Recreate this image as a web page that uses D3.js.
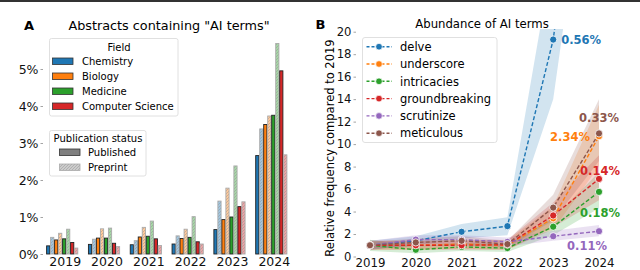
<!DOCTYPE html>
<html>
<head>
<meta charset="utf-8">
<script src="https://cdn.jsdelivr.net/npm/d3@7"></script>
<style>
  body { margin: 0; background: #fff; }
  svg { font-family: "DejaVu Sans", sans-serif; }
</style>
</head>
<body>
<div id="chart"></div>
<script>
// panel A data: share of abstracts with "AI terms" (percent)
var years = [2019, 2020, 2021, 2022, 2023, 2024];
var fields = ["Chemistry", "Biology", "Medicine", "Computer Science"];
var fieldColors = ["#1f77b4", "#ff7f0e", "#2ca02c", "#d62728"];

var chemistryPublished = [0.22, 0.26, 0.25, 0.27, 0.66, 2.66];
var chemistryPreprint  = [0.45, 0.40, 0.36, 0.49, 1.43, 3.38];
var biologyPublished   = [0.38, 0.43, 0.46, 0.42, 0.93, 3.50];
var biologyPreprint    = [0.56, 0.68, 0.72, 0.67, 1.78, 3.73];
var medicinePublished  = [0.41, 0.43, 0.48, 0.45, 1.00, 3.75];
var medicinePreprint   = [0.67, 0.70, 0.89, 1.01, 2.38, 5.69];
var csPublished        = [0.31, 0.29, 0.41, 0.33, 1.28, 4.95];
var csPreprint         = [0.16, 0.20, 0.23, 0.27, 1.41, 2.68];
var yTicksA = [0, 1, 2, 3, 4, 5];

// panel B data: frequency relative to 2019, with confidence band
var terms = ["delve", "underscore", "intricacies", "groundbreaking", "scrutinize", "meticulous"];
var termColors = ["#1f77b4", "#ff7f0e", "#2ca02c", "#d62728", "#9467bd", "#8c564b"];
var termLabels = ["0.56%", "2.34%", "0.18%", "0.14%", "0.11%", "0.33%"];

var delve      = [1, 1.4, 2.2, 2.7, 19.3, 50];
var delveLo    = [0.6, 1.0, 1.6, 1.9, 14, 43];
var delveHi    = [1.4, 1.8, 2.9, 3.5, 27, 60];
var underscore   = [1, 1.0, 1.1, 1.0, 3.4, 10.7];
var underscoreLo = [0.6, 0.6, 0.7, 0.6, 2.4, 8.0];
var underscoreHi = [1.4, 1.4, 1.5, 1.4, 4.5, 13.5];
var intricacies   = [1, 0.6, 0.85, 0.75, 2.65, 5.75];
var intricaciesLo = [0.5, 0.3, 0.5, 0.4, 1.9, 4.3];
var intricaciesHi = [1.5, 0.9, 1.2, 1.1, 3.4, 7.5];
var groundbreaking   = [1, 1.0, 1.0, 1.05, 3.65, 6.9];
var groundbreakingLo = [0.6, 0.6, 0.6, 0.6, 2.6, 5.0];
var groundbreakingHi = [1.4, 1.4, 1.4, 1.5, 4.8, 9.0];
var scrutinize   = [1, 1.5, 1.5, 1.3, 1.8, 2.25];
var scrutinizeLo = [0.6, 1.1, 1.1, 0.9, 1.4, 1.8];
var scrutinizeHi = [1.4, 1.9, 1.9, 1.7, 2.3, 2.8];
var meticulous   = [1, 1.25, 1.4, 1.1, 4.35, 10.95];
var meticulousLo = [0.7, 0.9, 1.0, 0.8, 3.2, 8.5];
var meticulousHi = [1.3, 1.6, 1.8, 1.4, 5.5, 14];
var yTicksB = [0, 2, 4, 6, 8, 10, 12, 14, 16, 18, 20];

var width = 640, height = 270;

var svg = d3.select("#chart").append("svg")
    .attr("width", width)
    .attr("height", height);

// thin dark line along the top edge of the figure
svg.append("rect").attr("x", 0).attr("y", 0).attr("width", width).attr("height", 2).attr("fill", "#333");

var defs = svg.append("defs");

// hatch patterns for preprint bars
function makeHatch(id, color, alpha){
    var p = defs.append("pattern")
        .attr("id", id)
        .attr("patternUnits", "userSpaceOnUse")
        .attr("width", 3).attr("height", 3);
    p.append("rect").attr("width", 3).attr("height", 3).attr("fill", "#fff");
    p.append("rect").attr("width", 3).attr("height", 3).attr("fill", color).attr("fill-opacity", alpha);
    p.append("path")
        .attr("d", "M-1,1 L1,-1 M0,3 L3,0 M2,4 L4,2")
        .attr("stroke", "#888").attr("stroke-opacity", 0.6).attr("stroke-width", 0.7);
}
fieldColors.forEach(function(c, i){ makeHatch("hatch" + i, c, 0.42); });
makeHatch("hatchGray", "#999", 0.5);

drawPanelA();
drawPanelB();

function drawPanelA(){
    var published = [chemistryPublished, biologyPublished, medicinePublished, csPublished];
    var preprint = [chemistryPreprint, biologyPreprint, medicinePreprint, csPreprint];

    var x = d3.scalePoint().domain(years).range([64.7, 273.8]);
    var inner = d3.scaleBand().domain(d3.range(8)).range([-18.5, 13.5]);
    var y = d3.scaleLinear().domain([0, 6]).range([254, 32]);

    var rows = [];
    years.forEach(function(yr, i){
        fields.forEach(function(f, j){
            rows.push({year: yr, field: j, slot: j * 2, pre: false, v: published[j][i]});
            rows.push({year: yr, field: j, slot: j * 2 + 1, pre: true, v: preprint[j][i]});
        });
    });

    var g = svg.append("g");

    g.selectAll(".bar")
        .data(rows)
        .enter()
        .append("rect")
        .attr("class", "bar")
        .attr("x", function(d){ return x(d.year) + inner(d.slot) + 0.4; })
        .attr("width", inner.bandwidth() - 0.8)
        .attr("y", function(d){ return y(d.v); })
        .attr("height", function(d){ return y(0) - y(d.v); })
        .attr("fill", function(d){ return d.pre ? "url(#hatch" + d.field + ")" : fieldColors[d.field]; })
        .attr("stroke", function(d){ return d.pre ? "#aaa" : "#222"; })
        .attr("stroke-width", 0.9);

    // y axis (ticks + labels only, no spine)
    var yAxis = g.append("g").attr("transform", "translate(43,0)")
        .call(d3.axisLeft(y).tickValues(yTicksA).tickSize(2.5).tickPadding(2)
            .tickFormat(function(d){ return d + "%"; }));
    yAxis.select(".domain").remove();
    yAxis.selectAll("line").attr("stroke", "#666").attr("stroke-width", 0.6);
    yAxis.selectAll("text").attr("font-size", 12.5).attr("fill", "#111").attr("font-family", "DejaVu Sans");

    var xAxis = g.append("g").attr("transform", "translate(0,254)")
        .call(d3.axisBottom(x).tickSize(0).tickPadding(3));
    xAxis.select(".domain").remove();
    xAxis.selectAll("text").attr("font-size", 12.5).attr("fill", "#111").attr("font-family", "DejaVu Sans");

    svg.append("text").attr("x", 169).attr("y", 29.5).attr("text-anchor", "middle")
        .attr("font-size", 12.8).text('Abstracts containing "AI terms"');
    svg.append("text").attr("x", 24).attr("y", 29.5).attr("font-size", 13).attr("font-weight", "bold").text("A");

    // field legend
    var lf = svg.append("g");
    lf.append("rect").attr("x", 49.5).attr("y", 38.5).attr("width", 128.5).attr("height", 77.5)
        .attr("rx", 2).attr("fill", "#fff").attr("fill-opacity", 0.85).attr("stroke", "#d8d8d8").attr("stroke-width", 0.8);
    lf.append("text").attr("x", 119).attr("y", 50.5).attr("text-anchor", "middle").attr("font-size", 10).text("Field");
    var fItem = lf.selectAll(".fItem").data(fields).enter().append("g")
        .attr("transform", function(d, i){ return "translate(0," + (61 + i * 15) + ")"; });
    fItem.append("rect").attr("x", 52.5).attr("y", -3).attr("width", 20.5).attr("height", 6.5)
        .attr("fill", function(d, i){ return fieldColors[i]; }).attr("stroke", "#333").attr("stroke-width", 0.8);
    fItem.append("text").attr("x", 82).attr("y", 3.6).attr("font-size", 10).text(function(d){ return d; });

    // publication status legend
    var lp = svg.append("g");
    lp.append("rect").attr("x", 49.5).attr("y", 130.5).attr("width", 96.5).attr("height", 45.5)
        .attr("rx", 2).attr("fill", "#fff").attr("fill-opacity", 0.85).attr("stroke", "#d8d8d8").attr("stroke-width", 0.8);
    lp.append("text").attr("x", 98).attr("y", 141.5).attr("text-anchor", "middle").attr("font-size", 10).text("Publication status");
    var status = ["Published", "Preprint"];
    var sItem = lp.selectAll(".sItem").data(status).enter().append("g")
        .attr("transform", function(d, i){ return "translate(0," + (152 + i * 15) + ")"; });
    sItem.append("rect").attr("x", 59.5).attr("y", -3).attr("width", 20.5).attr("height", 6.5)
        .attr("fill", function(d, i){ return i === 0 ? "#808080" : "url(#hatchGray)"; })
        .attr("stroke", function(d, i){ return i === 0 ? "#333" : "#aaa"; }).attr("stroke-width", 0.8);
    sItem.append("text").attr("x", 88).attr("y", 3.6).attr("font-size", 10).text(function(d){ return d; });
}

function drawPanelB(){
    var vals = [delve, underscore, intricacies, groundbreaking, scrutinize, meticulous];
    var los = [delveLo, underscoreLo, intricaciesLo, groundbreakingLo, scrutinizeLo, meticulousLo];
    var his = [delveHi, underscoreHi, intricaciesHi, groundbreakingHi, scrutinizeHi, meticulousHi];

    var x = d3.scalePoint().domain(years).range([370, 599]);
    var y = d3.scaleLinear().domain([0, 20]).range([256.5, 31.7]);

    defs.append("clipPath").attr("id", "clipB")
        .append("rect").attr("x", 356).attr("y", 29).attr("width", 270).attr("height", 232);

    var plot = svg.append("g").attr("clip-path", "url(#clipB)");

    var series = terms.map(function(t, k){
        return years.map(function(yr, i){
            return {year: yr, v: vals[k][i], lo: los[k][i], hi: his[k][i]};
        });
    });

    var area = d3.area()
        .x(function(d){ return x(d.year); })
        .y0(function(d){ return y(d.lo); })
        .y1(function(d){ return y(d.hi); });
    var line = d3.line()
        .x(function(d){ return x(d.year); })
        .y(function(d){ return y(d.v); });

    series.forEach(function(s, k){
        plot.append("path").datum(s).attr("d", area)
            .attr("fill", termColors[k]).attr("fill-opacity", 0.2);
    });
    series.forEach(function(s, k){
        plot.append("path").datum(s).attr("d", line)
            .attr("fill", "none").attr("stroke", termColors[k])
            .attr("stroke-width", 1.4).attr("stroke-dasharray", "4,2.2");
        plot.selectAll(".pt" + k).data(s).enter().append("circle")
            .attr("cx", function(d){ return x(d.year); })
            .attr("cy", function(d){ return y(d.v); })
            .attr("r", 3.6)
            .attr("fill", termColors[k]).attr("stroke", "#fff").attr("stroke-width", 0.8);
    });

    var yAxis = svg.append("g").attr("transform", "translate(356,0)")
        .call(d3.axisLeft(y).tickValues(yTicksB).tickSize(2.5).tickPadding(2));
    yAxis.select(".domain").remove();
    yAxis.selectAll("line").attr("stroke", "#666").attr("stroke-width", 0.6);
    yAxis.selectAll("text").attr("font-size", 11.6).attr("fill", "#111").attr("font-family", "DejaVu Sans");

    var xAxis = svg.append("g").attr("transform", "translate(0,256.5)")
        .call(d3.axisBottom(x).tickSize(0).tickPadding(2));
    xAxis.select(".domain").remove();
    xAxis.selectAll("text").attr("font-size", 11.8).attr("fill", "#111").attr("font-family", "DejaVu Sans");

    svg.append("text").attr("transform", "translate(333.5,148) rotate(-90)")
        .attr("text-anchor", "middle").attr("font-size", 11.5)
        .text("Relative frequency compared to 2019");

    svg.append("text").attr("x", 482).attr("y", 27.5).attr("text-anchor", "middle")
        .attr("font-size", 11.7).text("Abundance of AI terms");
    svg.append("text").attr("x", 315.5).attr("y", 29).attr("font-size", 13).attr("font-weight", "bold").text("B");

    // end-of-line annotations: [year index, dx, dy, anchor]
    var labelPos = [[4, 8, 4.5, "start"], [5, -9, 5, "end"], [5, 1, 25, "middle"],
                    [5, 1, -4, "middle"], [5, -12, 18.5, "middle"], [5, 0, -11, "middle"]];
    terms.forEach(function(t, k){
        var p = labelPos[k], d = series[k][p[0]];
        svg.append("text")
            .attr("x", x(d.year) + p[1])
            .attr("y", y(d.v) + p[2])
            .attr("text-anchor", p[3])
            .attr("font-size", 11.5).attr("font-weight", "bold")
            .attr("fill", termColors[k])
            .text(termLabels[k]);
    });

    // legend
    var lg = svg.append("g");
    lg.append("rect").attr("x", 362.5).attr("y", 37.5).attr("width", 134.5).attr("height", 105)
        .attr("rx", 2.5).attr("fill", "#fff").attr("fill-opacity", 0.85).attr("stroke", "#d8d8d8").attr("stroke-width", 0.8);
    var item = lg.selectAll(".lItem").data(terms).enter().append("g")
        .attr("transform", function(d, i){ return "translate(0," + (46.7 + i * 17.3) + ")"; });
    item.append("line").attr("x1", 366.5).attr("x2", 392)
        .attr("stroke", function(d, i){ return termColors[i]; })
        .attr("stroke-width", 1.4).attr("stroke-dasharray", "3,2");
    item.append("circle").attr("cx", 379).attr("r", 3.3)
        .attr("fill", function(d, i){ return termColors[i]; }).attr("stroke", "#fff").attr("stroke-width", 0.7);
    item.append("text").attr("x", 400).attr("y", 4.2).attr("font-size", 11.5).text(function(d){ return d; });
}
</script>
</body>
</html>
